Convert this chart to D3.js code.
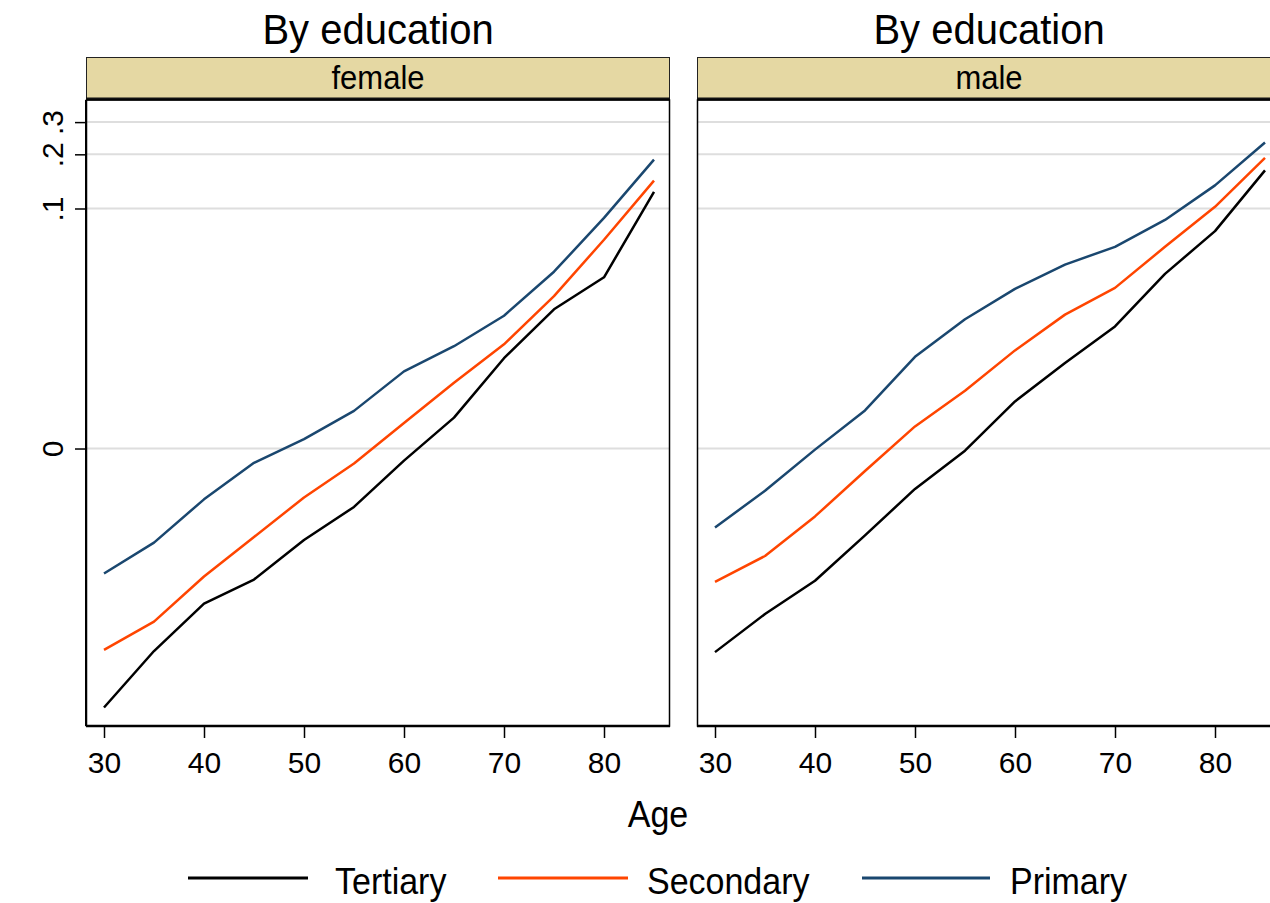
<!DOCTYPE html>
<html>
<head>
<meta charset="utf-8">
<script src="https://cdn.jsdelivr.net/npm/d3@7/dist/d3.min.js"></script>
<style>
  html, body { margin: 0; padding: 0; background: #fff; }
  svg { display: block; font-family: "Liberation Sans", Arial, sans-serif; }
</style>
</head>
<body>
<svg id="chart" width="1270" height="903"></svg>
<script>
// Ages on the x axis
const ages = [30, 35, 40, 45, 50, 55, 60, 65, 70, 75, 80, 85];

// Female panel
const femaleTertiary  = [-0.1277, -0.0610, -0.0316, -0.02208, -0.01146, -0.00579, -0.00088, 0.00254, 0.01121, 0.02501, 0.03974, 0.1239];
const femaleSecondary = [-0.0601, -0.0408, -0.02108, -0.01085, -0.00455, -0.00112, 0.00203, 0.00686, 0.01433, 0.03035, 0.06635, 0.1432];
const femalePrimary   = [-0.02011, -0.01201, -0.00478, -0.00106, 0.00067, 0.00324, 0.00871, 0.01387, 0.0227, 0.04296, 0.08844, 0.1871];

// Male panel
const maleTertiary  = [-0.0619, -0.03667, -0.02249, -0.01053, -0.00354, -0.00015, 0.00432, 0.01027, 0.01922, 0.04167, 0.07436, 0.1631];
const maleSecondary = [-0.02287, -0.01515, -0.00719, -0.00175, 0.00172, 0.0057, 0.0129, 0.02308, 0.0342, 0.06034, 0.1022, 0.1912];
const malePrimary   = [-0.00904, -0.00375, -0.000075, 0.00329, 0.0115, 0.02148, 0.03372, 0.04739, 0.06034, 0.0861, 0.1347, 0.2322];

const seriesNames = ["Tertiary", "Secondary", "Primary"];
const seriesColors = ["#000000", "#ff4500", "#1a476f"];

const panelLabels = ["female", "male"];
const panelTitle = "By education";

const xTicks = [30, 40, 50, 60, 70, 80];
const yTicks = [0, 0.1, 0.2, 0.3];
const yTickLabels = ["0", ".1", ".2", ".3"];

const panels = [
  { label: panelLabels[0], series: [femaleTertiary, femaleSecondary, femalePrimary] },
  { label: panelLabels[1], series: [maleTertiary, maleSecondary, malePrimary] }
];

// Layout
const panelW = 584, panelH = 626;
const panelTop = 100, stripTop = 57;
const panelLefts = [86, 697];

const svg = d3.select("#chart");

const x = d3.scaleLinear().domain([28.2, 86.6]).range([0, panelW]);
const y = d3.scaleSymlog().constant(0.0055).domain([-0.1618, 0.3955]).range([panelH, 0]);

const line = d3.line().x((d, i) => x(ages[i])).y(d => y(d));

panels.forEach((p, pi) => {
  const left = panelLefts[pi];

  // Panel title (slightly tall lettering)
  svg.append("text")
    .attr("transform", `translate(${left + panelW / 2},44) scale(1,1.08)`)
    .attr("text-anchor", "middle")
    .attr("font-size", 40)
    .attr("fill", "#000")
    .text(panelTitle);

  // Strip with label
  svg.append("rect")
    .attr("x", left + 0.5).attr("y", stripTop + 0.5)
    .attr("width", panelW - 1).attr("height", panelTop - stripTop - 1)
    .attr("fill", "#e5d8a3").attr("stroke", "#222").attr("stroke-width", 1);
  svg.append("line")
    .attr("x1", left).attr("x2", left + panelW)
    .attr("y1", panelTop - 1).attr("y2", panelTop - 1)
    .attr("stroke", "#111").attr("stroke-width", 3);
  svg.append("text")
    .attr("transform", `translate(${left + panelW / 2},89) scale(1,1.06)`)
    .attr("text-anchor", "middle")
    .attr("font-size", 31)
    .attr("fill", "#000")
    .text(p.label);

  const g = svg.append("g").attr("transform", `translate(${left},${panelTop})`);

  // Horizontal gridlines
  g.selectAll("line.grid").data(yTicks).join("line")
    .attr("class", "grid")
    .attr("x1", 0).attr("x2", panelW)
    .attr("y1", d => y(d)).attr("y2", d => y(d))
    .attr("stroke", "#dedede").attr("stroke-width", 2);

  // Series lines
  p.series.forEach((vals, si) => {
    g.append("path")
      .datum(vals)
      .attr("d", line)
      .attr("fill", "none")
      .attr("stroke", seriesColors[si])
      .attr("stroke-width", 2.5)
      .attr("stroke-linejoin", "round");
  });

  // Panel frame
  g.append("rect")
    .attr("x", 0.5).attr("y", 0).attr("width", panelW - 1).attr("height", panelH)
    .attr("fill", "none").attr("stroke", "#000").attr("stroke-width", 1.5);

  // X axis
  const xAxis = d3.axisBottom(x).tickValues(xTicks).tickSize(12).tickPadding(14).tickFormat(d3.format("d"));
  const xa = g.append("g").attr("transform", `translate(0,${panelH})`).call(xAxis);
  xa.select(".domain").attr("stroke", "#000").attr("stroke-width", 2.5).attr("d", `M0,0H${panelW}`);
  xa.selectAll(".tick line").attr("stroke", "#000").attr("stroke-width", 1.5);
  xa.selectAll(".tick text").attr("font-size", 30).attr("fill", "#000")
    .attr("font-family", "'Liberation Sans', Arial, sans-serif");

  // Y axis on the first panel only
  if (pi === 0) {
    const yAxis = d3.axisLeft(y).tickValues(yTicks).tickSize(11)
      .tickFormat((d, i) => yTickLabels[i]);
    const ya = g.append("g").call(yAxis);
    ya.select(".domain").attr("stroke", "#000").attr("stroke-width", 2).attr("d", `M0,0V${panelH}`);
    ya.selectAll(".tick line").attr("stroke", "#000").attr("stroke-width", 1.5);
    ya.selectAll(".tick text")
      .attr("font-size", 30).attr("fill", "#000")
      .attr("font-family", "'Liberation Sans', Arial, sans-serif")
      .attr("x", null).attr("dy", null)
      .attr("text-anchor", "middle")
      .attr("transform", "translate(-23,0) rotate(-90)");
  }
});

// X axis title
svg.append("text")
  .attr("transform", "translate(658,827) scale(1,1.06)")
  .attr("text-anchor", "middle")
  .attr("font-size", 34)
  .attr("fill", "#000")
  .text("Age");

// Legend
const legendItems = [
  { x1: 188, x2: 308, tx: 335 },
  { x1: 498, x2: 628, tx: 647 },
  { x1: 862, x2: 990, tx: 1010 }
];
const lg = svg.append("g");
seriesNames.forEach((name, i) => {
  const it = legendItems[i];
  lg.append("line")
    .attr("x1", it.x1).attr("x2", it.x2)
    .attr("y1", 878).attr("y2", 878)
    .attr("stroke", seriesColors[i]).attr("stroke-width", 3);
  lg.append("text")
    .attr("transform", `translate(${it.tx},894) scale(1,1.06)`)
    .attr("font-size", 34)
    .attr("fill", "#000")
    .text(name);
});
</script>
</body>
</html>
